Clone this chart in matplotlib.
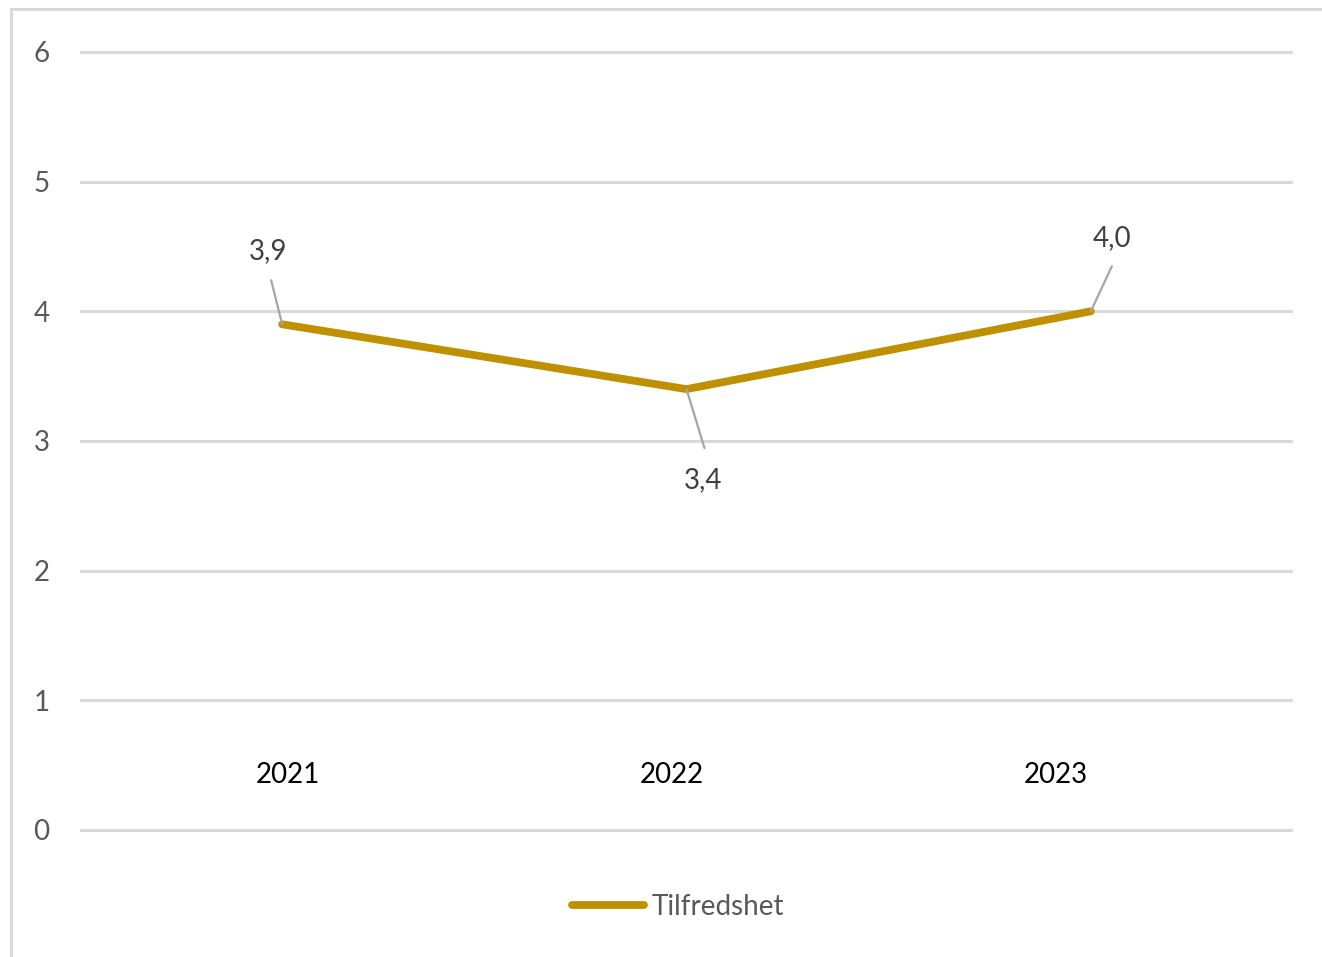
import matplotlib
matplotlib.use("Agg")
import matplotlib.pyplot as plt
from matplotlib.lines import Line2D

years = ["2021", "2022", "2023"]
values = [3.9, 3.4, 4.0]
value_labels = ["3,9", "3,4", "4,0"]
series_name = "Tilfredshet"
yticks = [0, 1, 2, 3, 4, 5, 6]

plt.rcParams['font.family'] = ['Lato', 'DejaVu Sans']

W, H = 1322, 957
fig = plt.figure(figsize=(W / 100, H / 100), dpi=100)
fig.patch.set_facecolor("white")

# frame (left and top edges visible)
fig.add_artist(Line2D([11 / W, 11 / W], [0, 1 - 9 / H], transform=fig.transFigure,
                      color="#D9D9D9", lw=2.2))
fig.add_artist(Line2D([11 / W, 1], [1 - 9 / H, 1 - 9 / H], transform=fig.transFigure,
                      color="#D9D9D9", lw=2.2))

ax = fig.add_axes([80 / W, (H - 840) / H, 1213 / W, 800 / H])
ppu = 129.67
ax.set_ylim((830 - 840) / ppu, (830 - 40) / ppu)
ax.set_xlim(-0.5, 2.5)
for s in ax.spines.values():
    s.set_visible(False)
ax.set_yticks(yticks)
ax.set_yticklabels([str(t) for t in yticks])
ax.tick_params(axis="y", length=0, pad=22, labelsize=20, labelcolor="#595959")
ax.set_xticks([])
ax.yaxis.grid(True, color="#D9D9D9", lw=2.2)
ax.set_axisbelow(True)

x = list(range(len(years)))
ax.plot(x, values, color="#BF9000", lw=5.6, solid_capstyle="round",
        solid_joinstyle="round", label=series_name, zorder=3)

# category labels (drawn inside plot area, as in the reference)
cat_x = [0.0144, 0.964, 1.914]
for cx, yr in zip(cat_x, years):
    ax.text(cx, 0.424, yr, ha="center", va="center", fontsize=20, color="black")

# data labels with leader lines
leader = [(-11, 44), (18, -59), (21, 45)]
label_off = [(-14, 73), (17, -91), (21, 73)]
for xi, v, lab, (lx, ly), (tx, ty) in zip(x, values, value_labels, leader, label_off):
    ax.annotate("", xy=(xi, v), xytext=(lx, ly), textcoords="offset pixels",
                arrowprops=dict(arrowstyle="-", color="#A6A6A6", lw=1.6,
                                shrinkA=0, shrinkB=0), zorder=4)
    ax.annotate(lab, xy=(xi, v), xytext=(tx, ty), textcoords="offset pixels",
                ha="center", va="center", fontsize=20, color="#404040")

leg = ax.legend(loc="center", bbox_to_anchor=(678 / W, 1 - 907 / H),
                bbox_transform=fig.transFigure, frameon=False, fontsize=20,
                handlelength=2.6, handletextpad=0.25, labelcolor="#595959")
for h in leg.get_lines():
    h.set_linewidth(5.6)
    h.set_solid_capstyle("round")

fig.savefig("out.png", dpi=100, facecolor="white")
